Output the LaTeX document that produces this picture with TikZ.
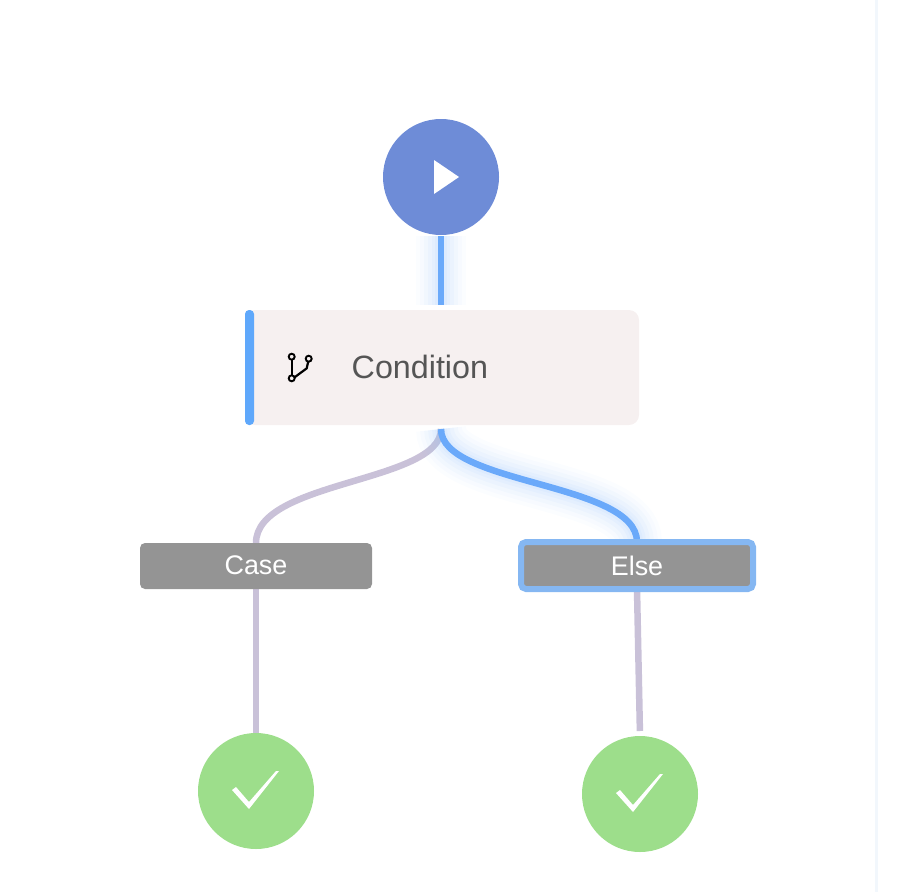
\documentclass[tikz,border=0pt]{standalone}
\usepackage{fontspec}
\setmainfont{Liberation Sans}
\usetikzlibrary{backgrounds}
\definecolor{startblue}{HTML}{6E8CD7}
\definecolor{linkblue}{HTML}{6AA9FA}
\definecolor{barblue}{HTML}{5FA8FB}
\definecolor{elseblue}{HTML}{85B7F2}
\definecolor{linkgrey}{HTML}{C9C1D8}
\definecolor{condfill}{HTML}{F6F0F0}
\definecolor{casegrey}{HTML}{949494}
\definecolor{endgreen}{HTML}{9DDE8B}
\definecolor{condtext}{HTML}{555555}
\definecolor{sideline}{HTML}{F2F7FC}
\tikzset{
  circnode/.style={circle,minimum size=116bp,inner sep=0pt,outer sep=0pt},
  casenode/.style={rectangle,rounded corners=5bp,fill=casegrey,text=white,minimum width=232bp,minimum height=46bp,inner sep=0pt,outer sep=0pt,font=\fontsize{27}{27}\selectfont},
  greylink/.style={draw=linkgrey,line width=6.5bp},
  bluelink/.style={draw=linkblue,line width=6.5bp,
    preaction={draw=linkblue!70,opacity=.035,line width=50bp},
    preaction={draw=linkblue!70,opacity=.045,line width=42bp},
    preaction={draw=linkblue!70,opacity=.06,line width=34bp},
    preaction={draw=linkblue!70,opacity=.07,line width=26bp},
    preaction={draw=linkblue!70,opacity=.08,line width=18bp},
    preaction={draw=linkblue!70,opacity=.09,line width=12bp}},
  tickmark/.style={fill=white,draw=none}
}
\begin{document}
\begin{tikzpicture}[x=1bp,y=-1bp]
\useasboundingbox (0,0) rectangle (908,892);
%%% The panel edge on the right
\fill[sideline] (875,0) rectangle (878,892);
%%% The nodes of the flow
\node[circnode,fill=startblue] (start) at (441,177) {};
\node[rectangle,rounded corners=10bp,fill=condfill,minimum width=394bp,minimum height=115bp,inner sep=0pt,outer sep=0pt] (condition) at (442,367.5) {};
\node[rectangle,rounded corners=4bp,fill=barblue,minimum width=9bp,minimum height=115bp,inner sep=0pt,outer sep=0pt] (conditionbar) at (249.5,367.5) {};
\node[anchor=base west,inner sep=0pt,text=condtext,font=\fontsize{32.4}{32.4}\selectfont] (conditionlabel) at (351.5,378) {Condition};
\node[casenode] (case) at (256,566) {\raisebox{1bp}{Case}};
\node[casenode,draw=elseblue,line width=6bp,minimum height=47bp] (else) at (637,565.5) {\raisebox{.5bp}{Else}};
\node[circnode,fill=endgreen] (endcase) at (256,791) {};
\node[circnode,fill=endgreen] (endelse) at (640,794) {};
%%% The links, behind the nodes
\begin{pgfonlayer}{background}
\path[bluelink,shorten <=1bp,shorten >=5bp] (start.south) -- (condition.north -| start.south);
\draw[greylink,shorten <=4bp] (condition.south -| start.south) .. controls +(0,58) and (256,480) .. (case.north);
\path[bluelink,shorten <=4bp] (condition.south -| start.south) .. controls +(0,60) and (637,482) .. (else.north);
\draw[greylink] (case.south) -- (endcase.north);
\draw[greylink,shorten >=5bp] (else.south) -- (endelse.north);
\end{pgfonlayer}
%%% The play mark
\fill[white] (434,160) -- (459,177) -- (434,194) -- cycle;
%%% The branch icon
\draw[black,line width=2.2bp] (291.7,359.7) -- (291.7,375.3);
\draw[black,line width=2.2bp] (294.5,377.4) -- (306.7,368.3) -- (308.2,361.7);
\draw[black,line width=1.9bp] (291.7,356.7) circle (3bp);
\draw[black,line width=1.9bp] (291.7,378.3) circle (3bp);
\draw[black,line width=1.9bp] (308.7,358.7) circle (3bp);
%%% The ticks
\fill[tickmark] (232,790) -- (236,787) -- (249,802) -- (276,771) -- (279,771) -- (249,809) -- cycle;
\fill[tickmark] (616,793) -- (620,790) -- (633,805) -- (660,774) -- (663,774) -- (633,812) -- cycle;
\end{tikzpicture}
\end{document}
